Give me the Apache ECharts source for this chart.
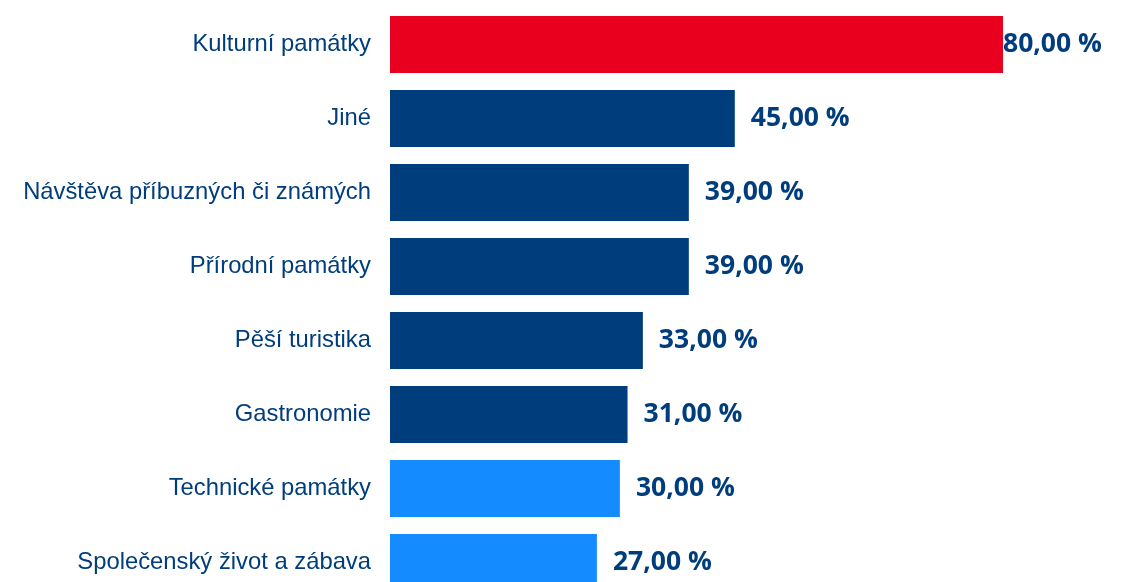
<!DOCTYPE html>
<html><head><meta charset="utf-8">
<script src="https://cdn.jsdelivr.net/npm/echarts@6/dist/echarts.min.js"></script>
<style>html,body{margin:0;padding:0;background:#fff}#c{width:1127px;height:582px}</style>
</head><body><div id="c"></div>
<script>
const categories = ["Kulturní památky","Jiné","Návštěva příbuzných či známých","Přírodní památky","Pěší turistika","Gastronomie","Technické památky","Společenský život a zábava"];
const values = [80,45,39,39,33,31,30,27];
const colorGroups = ["red","dark","dark","dark","dark","dark","light","light"];
const palette = {red:"#e8001e", dark:"#003d7c", light:"#148cff"};

const data = values.map((v,i)=>{
  const item = {value:v, itemStyle:{color:palette[colorGroups[i]]}};
  if(i===0) item.label = {distance:0};
  return item;
});

const chart = echarts.init(document.getElementById('c'));
chart.setOption({
  animation:false,
  grid:{left:390, width:613, top:7.5, height:592, containLabel:false, outerBoundsMode:'none'},
  xAxis:{type:'value', min:0, max:80, show:false},
  yAxis:{type:'category', data:categories, inverse:true,
    axisLine:{show:false}, axisTick:{show:false},
    axisLabel:{margin:19, fontSize:23.8, color:'#003d7c', fontFamily:'Liberation Sans, Arial, sans-serif'}},
  series:[{type:'bar', data:data, barWidth:57,
    label:{show:true, position:'right', distance:16, fontSize:26.5, fontWeight:'bold', color:'#003d7c',
      fontFamily:'Open Sans, Noto Sans, sans-serif',
      formatter:p=>p.value.toFixed(2).replace('.',',')+' %'}}]
});
</script></body></html>
